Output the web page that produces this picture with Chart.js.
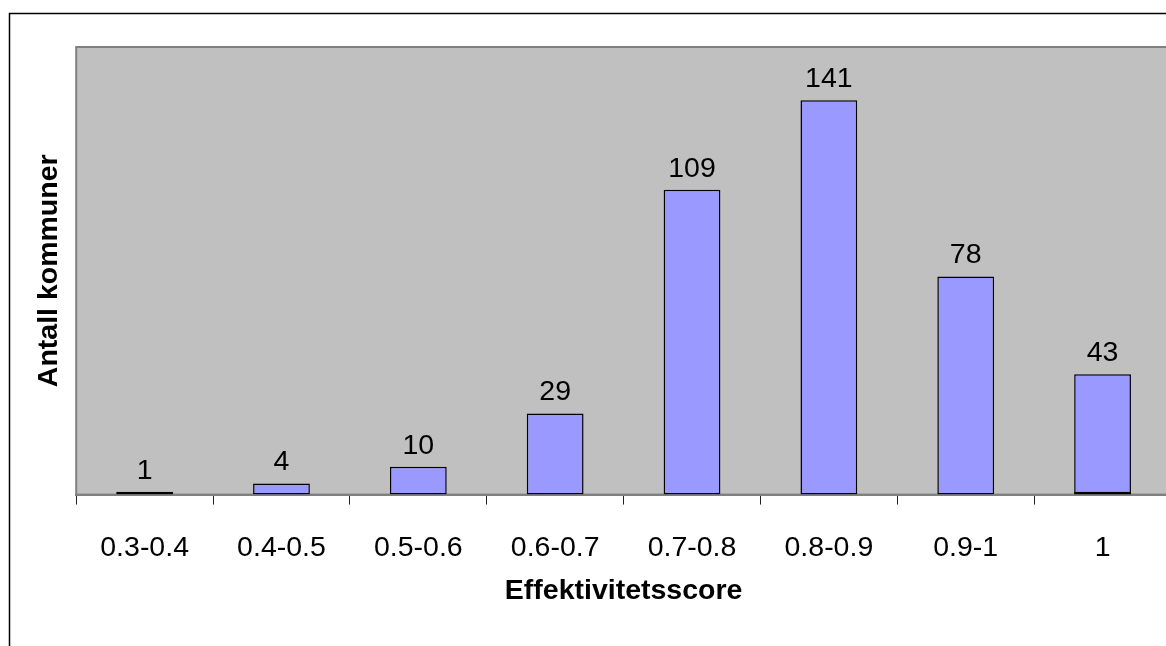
<!DOCTYPE html>
<html>
<head>
<meta charset="utf-8">
<script src="https://cdn.jsdelivr.net/npm/chart.js@4"></script>
<style>
  html, body { margin: 0; padding: 0; background: #ffffff; overflow: hidden; }
  #wrap { width: 1166px; height: 646px; overflow: hidden; position: relative; }
  canvas { display: block; }
</style>
</head>
<body>
<div id="wrap"><canvas id="chart" width="1190" height="680"></canvas></div>
<script>
// Score intervals and number of municipalities in each
const categories = ['0.3-0.4', '0.4-0.5', '0.5-0.6', '0.6-0.7', '0.7-0.8', '0.8-0.9', '0.9-1', '1'];
const antall = [1, 4, 10, 29, 109, 141, 78, 43];
// small segment drawn at the foot of the last bar
const bunnsegment = [null, null, null, null, null, null, null, 1];
const yMax = 160;

const FONT = '"Liberation Sans", Arial, sans-serif';

// grey plot background, plot frame and outer chart frame
const rammer = {
  id: 'rammer',
  beforeDraw(chart) {
    const { ctx, chartArea: a } = chart;
    ctx.save();
    ctx.fillStyle = '#ffffff';
    ctx.fillRect(0, 0, chart.width, chart.height);
    ctx.strokeStyle = '#000000';
    ctx.lineWidth = 1.5;
    ctx.strokeRect(9.5, 13.5, chart.width + 20, chart.height + 20);
    ctx.fillStyle = '#C0C0C0';
    ctx.fillRect(a.left, a.top, a.right - a.left, a.bottom - a.top);
    ctx.strokeStyle = '#808080';
    ctx.lineWidth = 2;
    ctx.strokeRect(a.left, a.top, a.right - a.left, a.bottom - a.top);
    ctx.restore();
  }
};

// value labels above each bar of the main series
const verdier = {
  id: 'verdier',
  afterDatasetsDraw(chart) {
    const { ctx } = chart;
    const meta = chart.getDatasetMeta(0);
    ctx.save();
    ctx.font = '28.5px ' + FONT;
    ctx.fillStyle = '#000000';
    ctx.textAlign = 'center';
    ctx.textBaseline = 'alphabetic';
    meta.data.forEach((bar, i) => {
      ctx.fillText(String(antall[i]), bar.x, bar.y - 13);
    });
    ctx.restore();
  }
};

new Chart(document.getElementById('chart'), {
  type: 'bar',
  data: {
    labels: categories,
    datasets: [
      {
        data: antall,
        backgroundColor: '#9999FF',
        borderColor: '#000000',
        borderWidth: 1.5,
        borderSkipped: false,
        grouped: false,
        order: 2
      },
      {
        data: bunnsegment,
        backgroundColor: '#9999FF',
        borderColor: '#000000',
        borderWidth: 1.5,
        borderSkipped: false,
        grouped: false,
        order: 1
      }
    ]
  },
  options: {
    responsive: false,
    animation: false,
    devicePixelRatio: 1,
    categoryPercentage: 1,
    barPercentage: 0.415,
    layout: { padding: { left: 20, top: 47, right: 19, bottom: 72 } },
    plugins: {
      legend: { display: false },
      tooltip: { enabled: false },
      title: { display: false }
    },
    scales: {
      x: {
        offset: true,
        grid: {
          offset: true,
          drawOnChartArea: false,
          drawTicks: true,
          tickLength: 10,
          color: '#202020',
          lineWidth: 1
        },
        border: { display: true, color: '#808080', width: 2 },
        ticks: {
          color: '#000000',
          font: { family: FONT, size: 28.5 },
          padding: 26,
          maxRotation: 0
        },
        title: {
          display: true,
          text: 'Effektivitetsscore',
          color: '#000000',
          font: { family: FONT, size: 28.5, weight: 'bold' },
          padding: { top: -17, bottom: 0 }
        }
      },
      y: {
        min: 0,
        max: yMax,
        grid: { display: false, drawTicks: false },
        border: { display: false },
        ticks: { display: false },
        title: {
          display: true,
          text: 'Antall kommuner',
          color: '#000000',
          font: { family: FONT, size: 28.5, weight: 'bold' },
          padding: { top: 12, bottom: 10 }
        }
      }
    }
  },
  plugins: [rammer, verdier]
});
</script>
</body>
</html>
